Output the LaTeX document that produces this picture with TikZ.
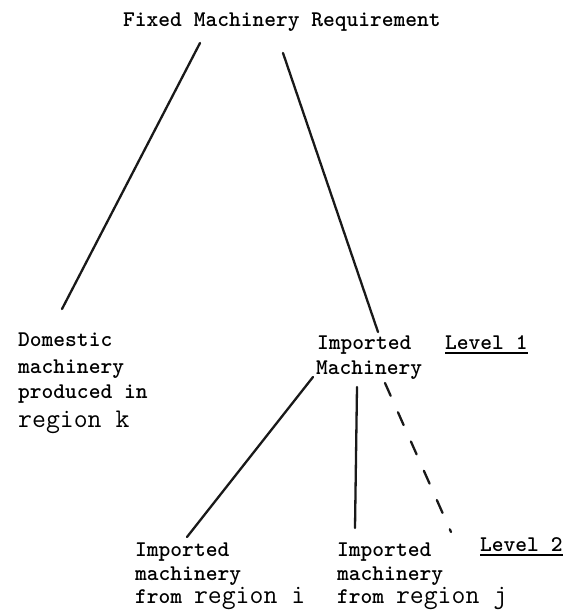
\documentclass[tikz,border=0pt]{standalone}
\usepackage{fontspec}
\newcommand{\twfont}{\ttfamily\bfseries\fontsize{22.4}{24}\selectfont}
\newcommand{\bigregion}[1]{{\normalfont\ttfamily\fontsize{27}{29}\selectfont #1}}
\tikzset{
  tw/.style={anchor=base west, inner sep=0pt, font=\twfont},
  big/.style={font=\ttfamily\fontsize{27}{29}\selectfont},
  conn/.style={line width=2.3pt, line cap=round, black!90},
  lvl/.style={tw}
}
\begin{document}
\begin{tikzpicture}[x=1pt,y=-1pt]
\useasboundingbox (0,0) rectangle (571,613);
% texts
\node[tw] (title) at (123,27) {Fixed Machinery Requirement};
\node[tw] (dom1) at (18,346) {Domestic};
\node[tw] (dom2) at (18,373) {machinery};
\node[tw] (dom3) at (18,398) {produced in};
\node[tw,big] (dom4) at (18,427) {region k};
\node[tw] (imp1) at (317,349) {Imported};
\node[tw] (imp2) at (316,374) {Machinery};
\node[lvl] (lev1) at (445,349) {Level 1};
\node[tw] (a1) at (135,556) {Imported};
\node[tw] (a2) at (135,580) {machinery};
\node[tw] (a3) at (135,603) {from \bigregion{region i}};
\node[tw] (b1) at (337,556) {Imported};
\node[tw] (b2) at (337,580) {machinery};
\node[tw] (b3) at (337,603) {from \bigregion{region j}};
\node[lvl] (lev2) at (480,551) {Level 2};
% underlines
\draw[line width=1.3pt] (lev1.base west) ++(0,4) -- ([yshift=-4pt]lev1.base east);
\draw[line width=1.3pt] (lev2.base west) ++(0,4) -- ([yshift=-4pt]lev2.base east);
% connector end points
\coordinate (tL) at (200,43);
\coordinate (tR) at (283,53);
\coordinate (dTop) at (62,309);
\coordinate (iTop) at (378,332);
\coordinate (iL) at (313,377);
\coordinate (iM) at (357,387);
\coordinate (iR) at (385,383);
\coordinate (aTop) at (187,537);
\coordinate (bTop) at (355,528);
\coordinate (cTop) at (451,532);
% connectors
\draw[conn] (tL) -- (dTop);
\draw[conn] (tR) -- (iTop);
\draw[conn] (iL) -- (aTop);
\draw[conn] (iM) -- (bTop);
\draw[conn, dash pattern=on 14pt off 18pt] (iR) -- (cTop);
\end{tikzpicture}
\end{document}
